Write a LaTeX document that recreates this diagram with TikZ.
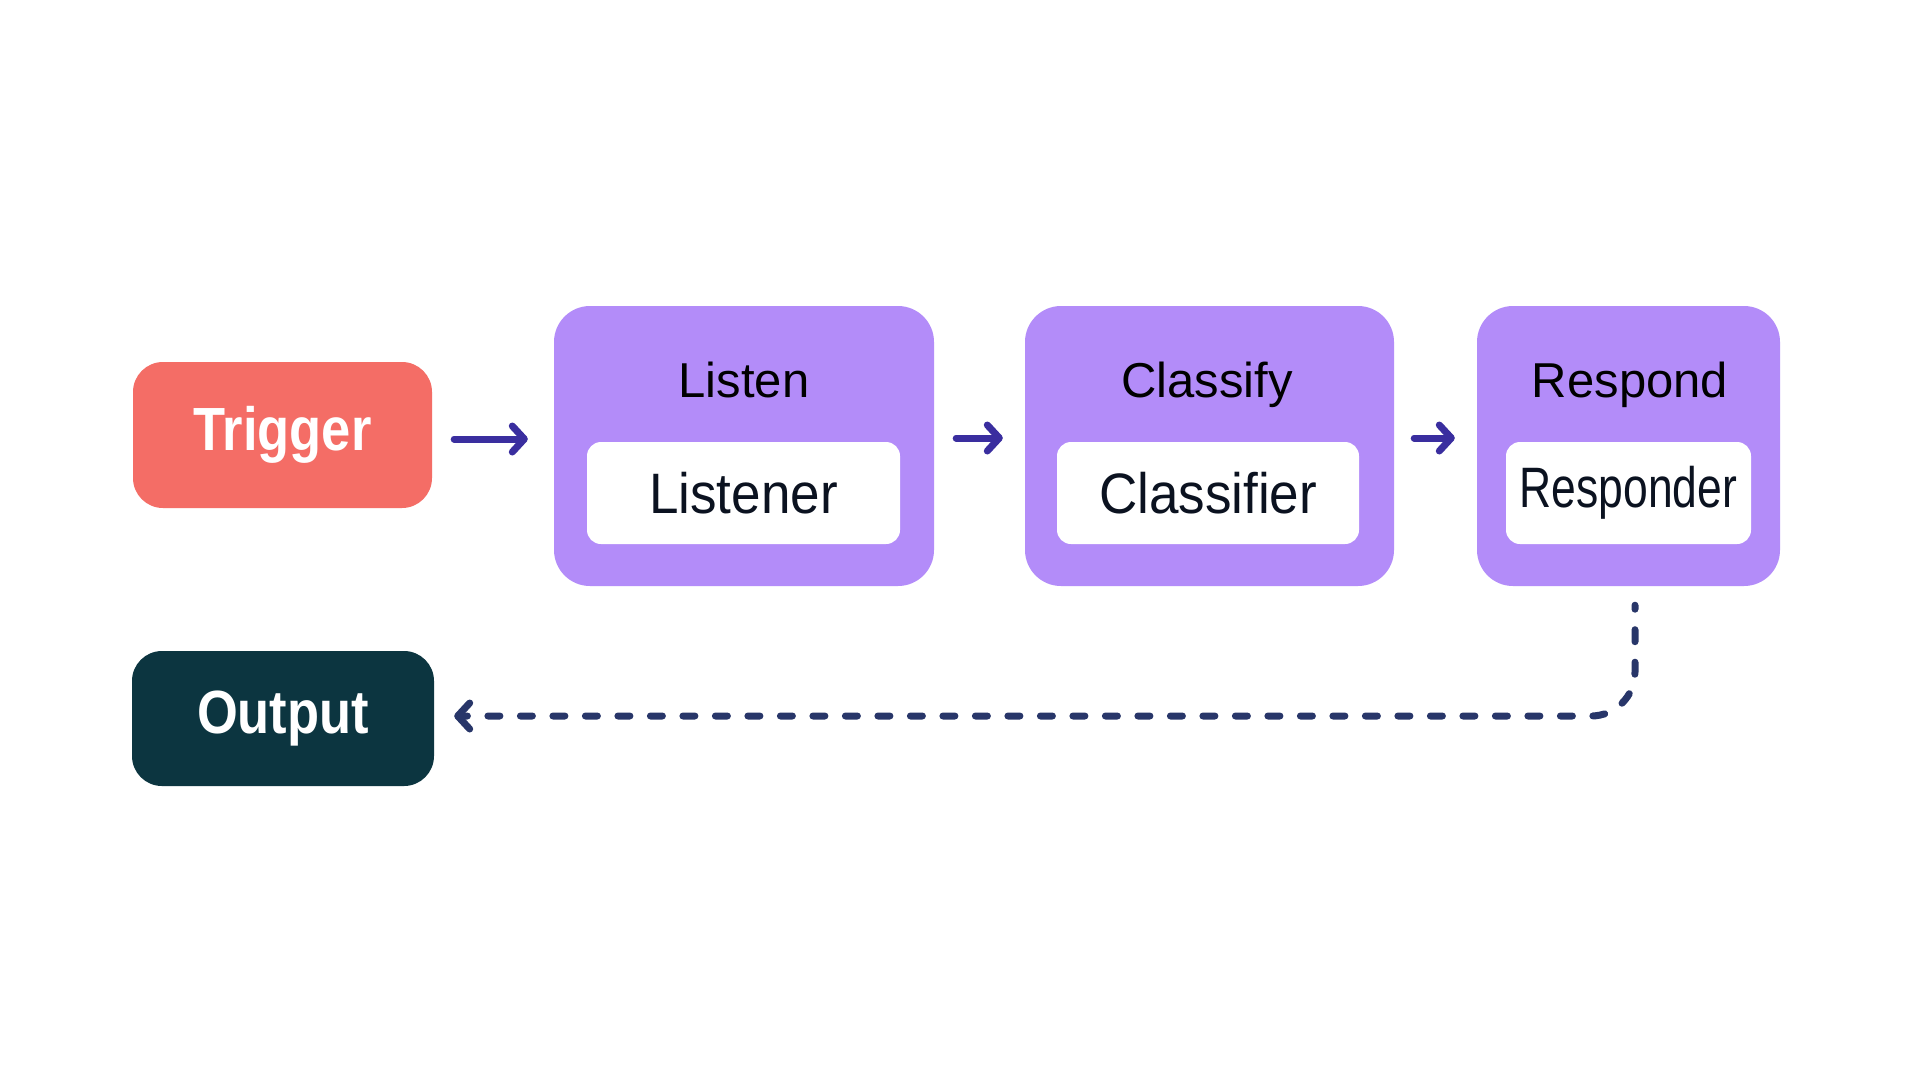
\documentclass[tikz,border=0pt]{standalone}
\usepackage{fontspec}
\setmainfont{Liberation Sans}
\newfontfamily\innerfont{Liberation Sans}[FakeStretch=0.93]
\newfontfamily\narrowfont{Liberation Sans}[FakeStretch=0.78]
\newfontfamily\tagfont{Liberation Sans}[FakeStretch=0.86]
\usetikzlibrary{arrows.meta}
\definecolor{salmon}{HTML}{F46D66}
\definecolor{purp}{HTML}{B38CF9}
\definecolor{deepteal}{HTML}{0C3540}
\definecolor{arrowind}{HTML}{3A2E9F}
\definecolor{dashnavy}{HTML}{283669}
\definecolor{txtdark}{HTML}{0B1220}
\tikzset{
  tagbox/.style={rectangle, rounded corners=30pt, inner sep=0pt, text=white,
    font=\tagfont\bfseries\fontsize{61}{70}\selectfont},
  stagebox/.style={rectangle, rounded corners=36pt, fill=purp, inner sep=0pt,
    minimum height=280pt},
  innerbox/.style={rectangle, rounded corners=14pt, fill=white, inner sep=0pt,
    minimum height=102pt, text=txtdark, font=\innerfont\fontsize{57}{66}\selectfont},
  titletext/.style={anchor=base, inner sep=0pt, text=black,
    font=\fontsize{49}{57}\selectfont},
  flow/.style={draw=arrowind, line width=7pt, line cap=round,
    -{Straight Barb[length=12pt,width=26pt,round]}},
  back/.style={draw=dashnavy, line width=7pt, line cap=round,
    dash pattern=on 12pt off 20.5pt, dash phase=8pt, rounded corners=44pt,
    -{Straight Barb[length=12pt,width=26pt,round]}}
}
\begin{document}
\begin{tikzpicture}[x=1pt, y=-1pt]
\useasboundingbox (0,0) rectangle (1920,1080);
\fill[white] (0,0) rectangle (1920,1080);

\node[tagbox, fill=salmon, minimum width=299pt, minimum height=146pt] (trig) at (282.5,435) {Trigger};
\node[tagbox, fill=deepteal, minimum width=302pt, minimum height=135pt] (out) at (283,718.5) {Output};

\node[stagebox, minimum width=380pt] (listen) at (744,446) {};
\node[stagebox, minimum width=369pt] (classify) at (1209.5,446) {};
\node[stagebox, minimum width=303pt] (respond) at (1628.5,446) {};

\node[titletext] (listent) at (744,397) {Listen};
\node[titletext] (classifyt) at (1207,397) {Classify};
\node[titletext] (respondt) at (1630,397) {Respond};

\node[innerbox, minimum width=313pt] (listener) at (743.5,493) {Listener};
\node[innerbox, minimum width=302pt] (classifier) at (1208,493) {Classifier};
\node[innerbox, minimum width=245pt, font=\narrowfont\fontsize{57}{66}\selectfont] (responder) at (1628.5,493) {Responder};

\draw[flow] ([xshift=22pt,yshift=-4pt]trig.east) -- ([xshift=-26pt,yshift=7pt]listen.west);
\draw[flow] ([xshift=22pt,yshift=8pt]listen.east) -- ([xshift=-22pt,yshift=8pt]classify.west);
\draw[flow] ([xshift=20pt,yshift=8pt]classify.east) -- ([xshift=-22pt,yshift=8pt]respond.west);

\draw[back] ([xshift=6.5pt,yshift=-19pt]respond.south) |- ([xshift=20pt,yshift=2.5pt]out.east);
\end{tikzpicture}
\end{document}
